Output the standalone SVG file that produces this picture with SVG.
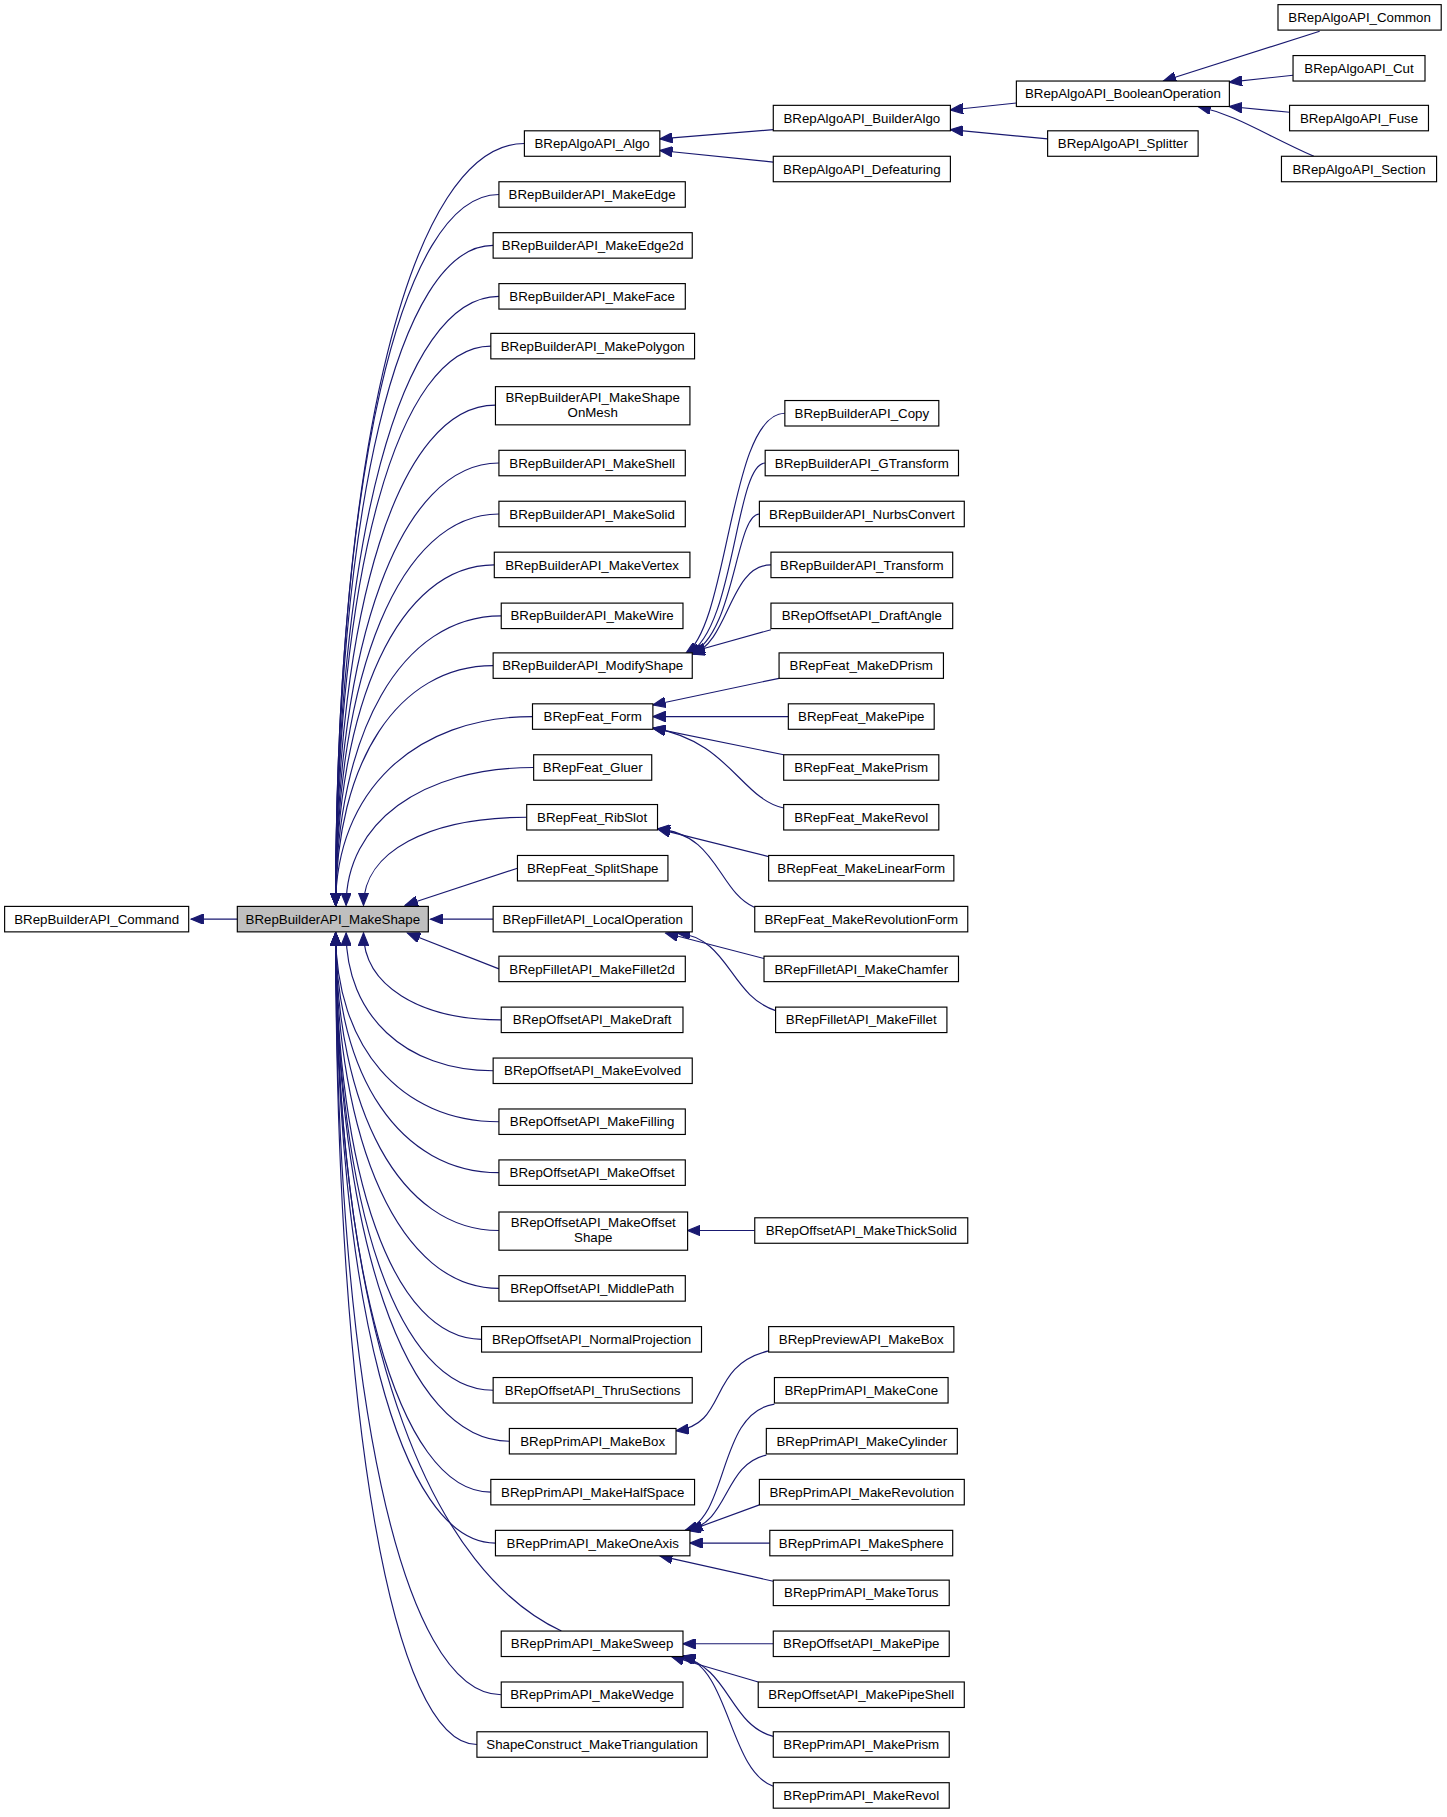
<svg xmlns="http://www.w3.org/2000/svg" width="1447" height="1817" viewBox="0 0 1447 1817">
<style>
.n rect{fill:#fff;stroke:#000;stroke-width:1}
.n text{font-family:"Liberation Sans",Arial,sans-serif;font-size:11.5px;text-anchor:middle;fill:#000}
#e path{fill:none;stroke:#191970;stroke-width:1;marker-end:url(#a)}
</style>
<defs><marker id="a" markerUnits="userSpaceOnUse" markerWidth="12" markerHeight="9" refX="11" refY="4.5" orient="auto"><path d="M0,0 L11,4.5 L0,9 z" fill="#191970" stroke="#191970"/></marker></defs>
<rect width="1447" height="1817" fill="#fff"/>
<g transform="scale(1.1576)">
<g id="e">
<path d="M205,794 L165,794"/>
<path d="M453,124 C355,124 290,387 290,782"/>
<path d="M431,168 C346,168 290,414 290,782"/>
<path d="M426,212 C344,212 290,440 290,782"/>
<path d="M431,256 C346,256 290,466 290,782"/>
<path d="M424,299 C344,299 290,492 290,782"/>
<path d="M428,350 C345,350 290,523 290,782"/>
<path d="M431,400 C346,400 290,553 290,782"/>
<path d="M431,444 C346,444 290,579 290,782"/>
<path d="M427,488 C345,488 290,606 290,782"/>
<path d="M433,532 C347,532 290,632 290,782"/>
<path d="M426,575 C344,575 290,658 290,782"/>
<path d="M460,619 C358,619 290,684 290,782"/>
<path d="M461,663 C364,663 299,711 299,782"/>
<path d="M455,706 C370,706 314,736 314,782"/>
<path d="M447,750 L350,782"/>
<path d="M426,794 L372,794"/>
<path d="M431,837 L352,806"/>
<path d="M433,881 C362,881 314,851 314,806"/>
<path d="M426,925 C350,925 299,877 299,806"/>
<path d="M431,969 C346,969 290,904 290,806"/>
<path d="M431,1013 C346,1013 290,930 290,806"/>
<path d="M431,1063 C346,1063 290,960 290,806"/>
<path d="M431,1113 C346,1113 290,990 290,806"/>
<path d="M416,1157 C340,1157 290,1017 290,806"/>
<path d="M426,1201 C344,1201 290,1043 290,806"/>
<path d="M440,1245 C350,1245 290,1069 290,806"/>
<path d="M424,1289 C344,1289 290,1096 290,806"/>
<path d="M428,1333 C345,1333 290,1122 290,806"/>
<path d="M485,1409 C380,1360 290,1180 290,806"/>
<path d="M433,1464 C347,1464 290,1201 290,806"/>
<path d="M412,1507 C339,1507 290,1227 290,806"/>
<path d="M678,357 C630,357 630,540 592,565"/>
<path d="M661,400 C635,400 635,545 594,565"/>
<path d="M656,444 C635,444 635,550 596,565"/>
<path d="M666,488 C630,488 630,555 598,565"/>
<path d="M666,544 L598,563"/>
<path d="M673,586 L564,609"/>
<path d="M681,619 L564,619"/>
<path d="M677,652 L564,629"/>
<path d="M677,698 C640,690 630,640 564,629"/>
<path d="M664,740 L568,716"/>
<path d="M652,784 C620,770 620,720 568,716"/>
<path d="M660,828 L575,806"/>
<path d="M670,873 C630,860 630,810 585,806"/>
<path d="M652,1063 L594,1063"/>
<path d="M664,1167 C610,1180 630,1230 584,1236"/>
<path d="M669,1213 C620,1220 630,1310 592,1322"/>
<path d="M662,1257 C625,1265 630,1315 594,1322"/>
<path d="M656,1300 L596,1322"/>
<path d="M665,1333 L596,1333"/>
<path d="M668,1366 L570,1344"/>
<path d="M668,1420 L590,1420"/>
<path d="M655,1453 L580,1431"/>
<path d="M668,1500 C630,1490 630,1440 588,1431"/>
<path d="M668,1543 C630,1530 630,1440 590,1431"/>
<path d="M668,112 L570,120"/>
<path d="M668,140 L570,130"/>
<path d="M878,89 L821,95"/>
<path d="M905,120 L821,112"/>
<path d="M1140,27 L1005,70"/>
<path d="M1117,65 L1062,71"/>
<path d="M1114,97 L1062,92"/>
<path d="M1135,135 C1090,115 1070,100 1035,92"/>
</g>
<g id="command" class="n"><rect x="4" y="783" width="159" height="22"/><text x="83.5" y="798">BRepBuilderAPI_Command</text></g>
<g id="makeshape" class="n"><rect x="205" y="783" width="165" height="22" style="fill:#bfbfbf"/><text x="287.5" y="798">BRepBuilderAPI_MakeShape</text></g>
<g id="algo" class="n"><rect x="453" y="113" width="117" height="22"/><text x="511.5" y="128">BRepAlgoAPI_Algo</text></g>
<g id="makeedge" class="n"><rect x="431" y="157" width="161" height="22"/><text x="511.5" y="172">BRepBuilderAPI_MakeEdge</text></g>
<g id="makeedge2d" class="n"><rect x="426" y="201" width="172" height="22"/><text x="512" y="216">BRepBuilderAPI_MakeEdge2d</text></g>
<g id="makeface" class="n"><rect x="431" y="245" width="161" height="22"/><text x="511.5" y="260">BRepBuilderAPI_MakeFace</text></g>
<g id="makepolygon" class="n"><rect x="424" y="288" width="176" height="22"/><text x="512" y="303">BRepBuilderAPI_MakePolygon</text></g>
<g id="makeshapeonmesh" class="n"><rect x="428" y="334" width="168" height="33"/><text x="512" y="347">BRepBuilderAPI_MakeShape</text><text x="512" y="360">OnMesh</text></g>
<g id="makeshell" class="n"><rect x="431" y="389" width="161" height="22"/><text x="511.5" y="404">BRepBuilderAPI_MakeShell</text></g>
<g id="makesolid" class="n"><rect x="431" y="433" width="161" height="22"/><text x="511.5" y="448">BRepBuilderAPI_MakeSolid</text></g>
<g id="makevertex" class="n"><rect x="427" y="477" width="169" height="22"/><text x="511.5" y="492">BRepBuilderAPI_MakeVertex</text></g>
<g id="makewire" class="n"><rect x="433" y="521" width="157" height="22"/><text x="511.5" y="536">BRepBuilderAPI_MakeWire</text></g>
<g id="modifyshape" class="n"><rect x="426" y="564" width="172" height="22"/><text x="512" y="579">BRepBuilderAPI_ModifyShape</text></g>
<g id="featform" class="n"><rect x="460" y="608" width="104" height="22"/><text x="512" y="623">BRepFeat_Form</text></g>
<g id="featgluer" class="n"><rect x="461" y="652" width="102" height="22"/><text x="512" y="667">BRepFeat_Gluer</text></g>
<g id="featribslot" class="n"><rect x="455" y="695" width="113" height="22"/><text x="511.5" y="710">BRepFeat_RibSlot</text></g>
<g id="featsplitshape" class="n"><rect x="447" y="739" width="130" height="22"/><text x="512" y="754">BRepFeat_SplitShape</text></g>
<g id="localoperation" class="n"><rect x="426" y="783" width="172" height="22"/><text x="512" y="798">BRepFilletAPI_LocalOperation</text></g>
<g id="makefillet2d" class="n"><rect x="431" y="826" width="161" height="22"/><text x="511.5" y="841">BRepFilletAPI_MakeFillet2d</text></g>
<g id="makedraft" class="n"><rect x="433" y="870" width="157" height="22"/><text x="511.5" y="885">BRepOffsetAPI_MakeDraft</text></g>
<g id="makeevolved" class="n"><rect x="426" y="914" width="172" height="22"/><text x="512" y="929">BRepOffsetAPI_MakeEvolved</text></g>
<g id="makefilling" class="n"><rect x="431" y="958" width="161" height="22"/><text x="511.5" y="973">BRepOffsetAPI_MakeFilling</text></g>
<g id="makeoffset" class="n"><rect x="431" y="1002" width="161" height="22"/><text x="511.5" y="1017">BRepOffsetAPI_MakeOffset</text></g>
<g id="makeoffsetshape" class="n"><rect x="431" y="1047" width="163" height="33"/><text x="512.5" y="1060">BRepOffsetAPI_MakeOffset</text><text x="512.5" y="1073">Shape</text></g>
<g id="middlepath" class="n"><rect x="431" y="1102" width="161" height="22"/><text x="511.5" y="1117">BRepOffsetAPI_MiddlePath</text></g>
<g id="normalprojection" class="n"><rect x="416" y="1146" width="190" height="22"/><text x="511" y="1161">BRepOffsetAPI_NormalProjection</text></g>
<g id="thrusections" class="n"><rect x="426" y="1190" width="172" height="22"/><text x="512" y="1205">BRepOffsetAPI_ThruSections</text></g>
<g id="primmakebox" class="n"><rect x="440" y="1234" width="144" height="22"/><text x="512" y="1249">BRepPrimAPI_MakeBox</text></g>
<g id="makehalfspace" class="n"><rect x="424" y="1278" width="176" height="22"/><text x="512" y="1293">BRepPrimAPI_MakeHalfSpace</text></g>
<g id="makeoneaxis" class="n"><rect x="428" y="1322" width="168" height="22"/><text x="512" y="1337">BRepPrimAPI_MakeOneAxis</text></g>
<g id="makesweep" class="n"><rect x="433" y="1409" width="157" height="22"/><text x="511.5" y="1424">BRepPrimAPI_MakeSweep</text></g>
<g id="makewedge" class="n"><rect x="433" y="1453" width="157" height="22"/><text x="511.5" y="1468">BRepPrimAPI_MakeWedge</text></g>
<g id="maketriangulation" class="n"><rect x="412" y="1496" width="199" height="22"/><text x="511.5" y="1511">ShapeConstruct_MakeTriangulation</text></g>
<g id="builderalgo" class="n"><rect x="668" y="91" width="153" height="22"/><text x="744.5" y="106">BRepAlgoAPI_BuilderAlgo</text></g>
<g id="defeaturing" class="n"><rect x="668" y="135" width="153" height="22"/><text x="744.5" y="150">BRepAlgoAPI_Defeaturing</text></g>
<g id="booleanoperation" class="n"><rect x="878" y="70" width="184" height="22"/><text x="970" y="85">BRepAlgoAPI_BooleanOperation</text></g>
<g id="splitter" class="n"><rect x="905" y="113" width="130" height="22"/><text x="970" y="128">BRepAlgoAPI_Splitter</text></g>
<g id="common" class="n"><rect x="1104" y="4" width="141" height="22"/><text x="1174.5" y="19">BRepAlgoAPI_Common</text></g>
<g id="cut" class="n"><rect x="1117" y="48" width="114" height="22"/><text x="1174" y="63">BRepAlgoAPI_Cut</text></g>
<g id="fuse" class="n"><rect x="1114" y="91" width="120" height="22"/><text x="1174" y="106">BRepAlgoAPI_Fuse</text></g>
<g id="section" class="n"><rect x="1107" y="135" width="134" height="22"/><text x="1174" y="150">BRepAlgoAPI_Section</text></g>
<g id="copy" class="n"><rect x="678" y="346" width="133" height="22"/><text x="744.5" y="361">BRepBuilderAPI_Copy</text></g>
<g id="gtransform" class="n"><rect x="661" y="389" width="167" height="22"/><text x="744.5" y="404">BRepBuilderAPI_GTransform</text></g>
<g id="nurbsconvert" class="n"><rect x="656" y="433" width="177" height="22"/><text x="744.5" y="448">BRepBuilderAPI_NurbsConvert</text></g>
<g id="transform" class="n"><rect x="666" y="477" width="157" height="22"/><text x="744.5" y="492">BRepBuilderAPI_Transform</text></g>
<g id="draftangle" class="n"><rect x="666" y="521" width="157" height="22"/><text x="744.5" y="536">BRepOffsetAPI_DraftAngle</text></g>
<g id="makedprism" class="n"><rect x="673" y="564" width="142" height="22"/><text x="744" y="579">BRepFeat_MakeDPrism</text></g>
<g id="featmakepipe" class="n"><rect x="681" y="608" width="126" height="22"/><text x="744" y="623">BRepFeat_MakePipe</text></g>
<g id="featmakeprism" class="n"><rect x="677" y="652" width="134" height="22"/><text x="744" y="667">BRepFeat_MakePrism</text></g>
<g id="featmakerevol" class="n"><rect x="677" y="695" width="134" height="22"/><text x="744" y="710">BRepFeat_MakeRevol</text></g>
<g id="makelinearform" class="n"><rect x="664" y="739" width="160" height="22"/><text x="744" y="754">BRepFeat_MakeLinearForm</text></g>
<g id="makerevolutionform" class="n"><rect x="652" y="783" width="184" height="22"/><text x="744" y="798">BRepFeat_MakeRevolutionForm</text></g>
<g id="makechamfer" class="n"><rect x="660" y="826" width="168" height="22"/><text x="744" y="841">BRepFilletAPI_MakeChamfer</text></g>
<g id="makefillet" class="n"><rect x="670" y="870" width="148" height="22"/><text x="744" y="885">BRepFilletAPI_MakeFillet</text></g>
<g id="makethicksolid" class="n"><rect x="652" y="1052" width="184" height="22"/><text x="744" y="1067">BRepOffsetAPI_MakeThickSolid</text></g>
<g id="previewmakebox" class="n"><rect x="664" y="1146" width="160" height="22"/><text x="744" y="1161">BRepPreviewAPI_MakeBox</text></g>
<g id="makecone" class="n"><rect x="669" y="1190" width="150" height="22"/><text x="744" y="1205">BRepPrimAPI_MakeCone</text></g>
<g id="makecylinder" class="n"><rect x="662" y="1234" width="165" height="22"/><text x="744.5" y="1249">BRepPrimAPI_MakeCylinder</text></g>
<g id="makerevolution" class="n"><rect x="656" y="1278" width="177" height="22"/><text x="744.5" y="1293">BRepPrimAPI_MakeRevolution</text></g>
<g id="makesphere" class="n"><rect x="665" y="1322" width="158" height="22"/><text x="744" y="1337">BRepPrimAPI_MakeSphere</text></g>
<g id="maketorus" class="n"><rect x="668" y="1365" width="152" height="22"/><text x="744" y="1380">BRepPrimAPI_MakeTorus</text></g>
<g id="offsetmakepipe" class="n"><rect x="668" y="1409" width="152" height="22"/><text x="744" y="1424">BRepOffsetAPI_MakePipe</text></g>
<g id="makepipeshell" class="n"><rect x="655" y="1453" width="178" height="22"/><text x="744" y="1468">BRepOffsetAPI_MakePipeShell</text></g>
<g id="primmakeprism" class="n"><rect x="668" y="1496" width="152" height="22"/><text x="744" y="1511">BRepPrimAPI_MakePrism</text></g>
<g id="primmakerevol" class="n"><rect x="668" y="1540" width="152" height="22"/><text x="744" y="1555">BRepPrimAPI_MakeRevol</text></g>
</g>
</svg>
